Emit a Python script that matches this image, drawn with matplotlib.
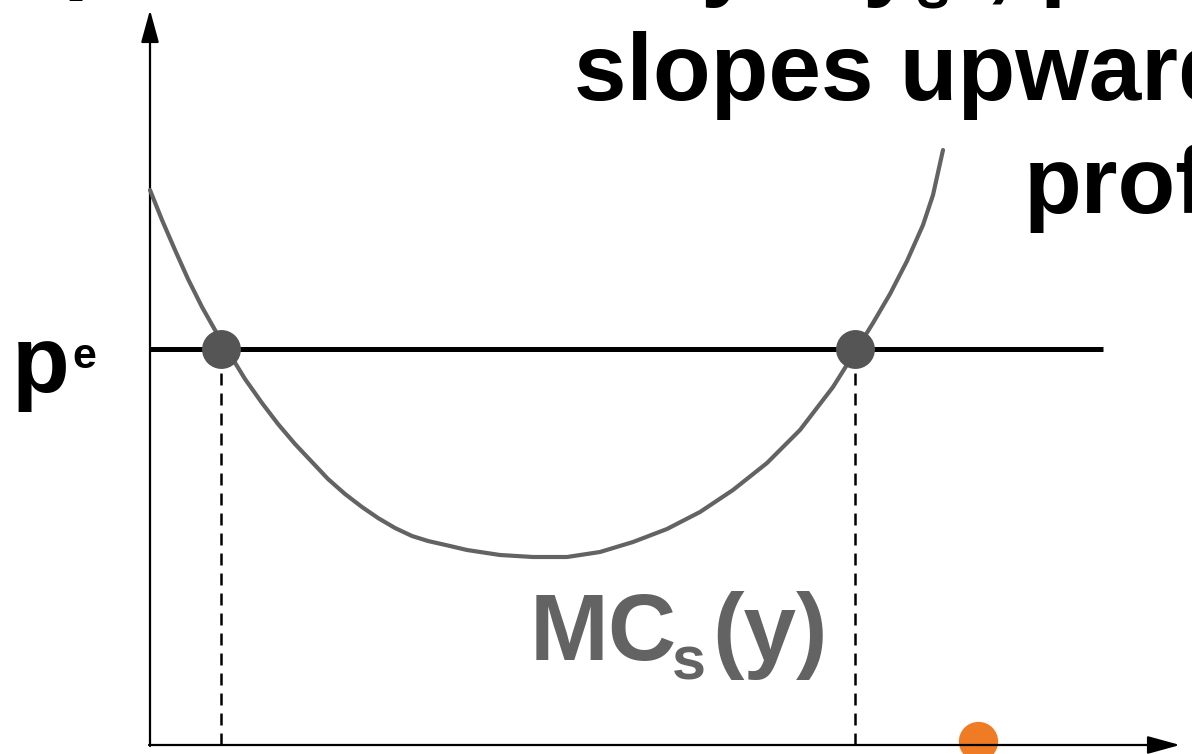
import matplotlib
matplotlib.use("Agg")
import matplotlib.pyplot as plt

plt.rcParams['font.family'] = ['Liberation Sans', 'DejaVu Sans']
plt.rcParams['lines.scale_dashes'] = False

# marginal cost curve MC_s(y)
mc_y = [0.00, 0.12, 0.25, 0.38, 0.52, 0.65, 0.95, 1.12, 1.28, 1.45, 1.62, 1.78,
        1.95, 2.12, 2.28, 2.45, 2.62, 2.78, 3.00, 3.17, 3.50, 3.83, 4.17, 4.50,
        4.83, 5.17, 5.50, 5.83, 6.17, 6.50, 6.83, 7.05, 7.23, 7.40, 7.57, 7.73,
        7.83, 7.93]
mc_val = [5.55, 5.25, 4.95, 4.66, 4.38, 4.15, 3.66, 3.42, 3.21, 3.01, 2.83, 2.66,
          2.51, 2.38, 2.27, 2.17, 2.09, 2.04, 1.99, 1.95, 1.90, 1.88, 1.88, 1.93,
          2.03, 2.16, 2.33, 2.55, 2.82, 3.15, 3.58, 3.93, 4.22, 4.51, 4.84, 5.20,
          5.50, 5.95]

# equilibrium price and the two outputs where p = MC
p_e = 3.96
price_line_end = 9.53
q_points = [0.71, 7.05]

# axis extents
x_axis_end = 10.30
y_axis_end = 7.35

# stray orange dot near the x axis
dot_x = [8.28]
dot_y = [0.04]

GREY = '#636363'
DOT = '#555555'
BIG = 68

fig = plt.figure(figsize=(11.92, 7.54), dpi=100)
ax = fig.add_axes([0, 0, 1, 1])
ax.set_xlim(-1.5, 10.42)
ax.set_ylim(-0.09, 7.45)
ax.axis('off')

# axes with arrows
ax.annotate('', xy=(0, y_axis_end), xytext=(0, -0.01),
            arrowprops=dict(arrowstyle='-|>,head_length=2.0,head_width=0.55',
                            lw=1.6, color='black', shrinkA=0, shrinkB=0))
ax.annotate('', xy=(x_axis_end, 0), xytext=(-0.01, 0),
            arrowprops=dict(arrowstyle='-|>,head_length=2.0,head_width=0.55',
                            lw=1.6, color='black', shrinkA=0, shrinkB=0))

# orange dot (sits under the axis line)
ax.scatter(dot_x, dot_y, s=800, color='#f07b25', zorder=1, linewidths=0)

# price line
ax.plot([0, price_line_end], [p_e, p_e], color='black', lw=3.6, zorder=3,
        solid_capstyle='butt')

# dashed drop lines
for q in q_points:
    ax.plot([q, q], [0, p_e], color='black', lw=1.8, dashes=(8.6, 5.8), zorder=2)

# MC curve
ax.plot(mc_y, mc_val, color=GREY, lw=3.0, zorder=4, solid_capstyle='round',
        solid_joinstyle='round')

# intersection dots
ax.plot(q_points, [p_e] * len(q_points), 'o', ms=28, color=DOT, zorder=5,
        markeredgewidth=0)

# labels
ax.text(-1.38, 3.53, 'p', fontsize=BIG, fontweight='bold', va='baseline')
ax.text(-0.78, 3.77, 'e', fontsize=31, fontweight='bold', va='baseline')

ax.text(3.80, 0.85, 'MC', fontsize=BIG, fontweight='bold', color=GREY, va='baseline')
ax.text(5.22, 0.65, 's', fontsize=44, fontweight='bold', color=GREY, va='baseline')
ax.text(5.62, 0.85, '(y)', fontsize=BIG, fontweight='bold', color=GREY, va='baseline')

ax.text(4.24, 6.45, 'slopes upward', fontsize=BIG, fontweight='bold', va='baseline')
ax.text(8.74, 5.32, 'profit', fontsize=BIG, fontweight='bold', va='baseline')

# headline text cut off by the top edge
ax.text(-0.87, 7.64, 'p', fontsize=BIG, fontweight='bold', va='baseline')
ax.text(5.50, 7.57, 'y', fontsize=BIG, fontweight='bold', va='baseline')
ax.text(7.12, 7.57, 'y', fontsize=BIG, fontweight='bold', va='baseline')
ax.text(7.66, 7.36, 's', fontsize=44, fontweight='bold', va='baseline')
ax.text(8.36, 7.55, ',', fontsize=BIG, fontweight='bold', va='baseline')
ax.text(8.90, 7.57, 'p', fontsize=BIG, fontweight='bold', va='baseline')

fig.savefig('out.png', dpi=100)
